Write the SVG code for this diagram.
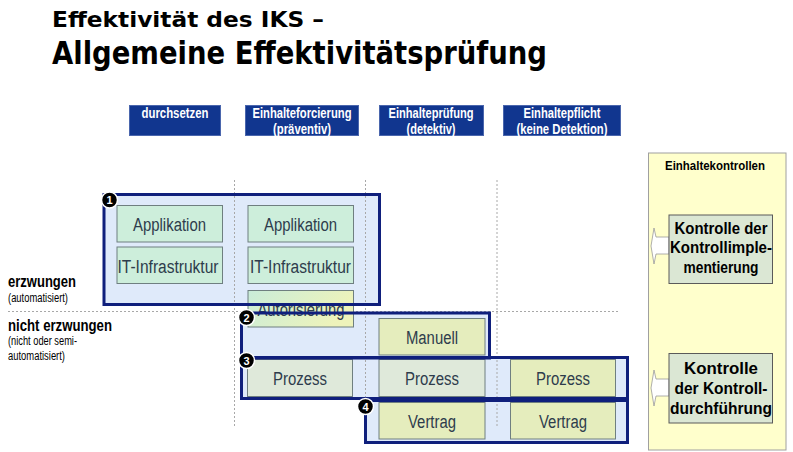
<svg xmlns="http://www.w3.org/2000/svg" width="793" height="452" viewBox="0 0 793 452">
<defs>
<linearGradient id="gAuth" x1="0" y1="0" x2="1" y2="0.3">
<stop offset="0" stop-color="#c9ecd9"/>
<stop offset="1" stop-color="#eef3ba"/>
</linearGradient>
<style>
.t1{font-family:"DejaVu Sans","Liberation Sans",sans-serif;font-weight:bold;fill:#000}
.hdr rect{fill:#11368f;stroke:#4a66ad;stroke-width:1}
.hdr text{font-family:"Liberation Sans",Arial,sans-serif;font-weight:bold;font-size:14px;fill:#fff;text-anchor:middle}
.ffill{fill:#dfeafa;stroke:none}
.fborder{fill:none;stroke:#0f1f7c;stroke-width:3}
.grid{stroke:#a8a8a8;stroke-width:1;stroke-dasharray:2 2;fill:none}
.box rect{stroke:#6f7f80;stroke-width:1}
.box text{font-family:"Liberation Sans",Arial,sans-serif;font-size:18px;fill:#2e3c4c;text-anchor:middle}
.mint{fill:#cdeedb}
.grey{fill:#dfe9da}
.yel{fill:#e5edbd}
.num circle{fill:#000;stroke:#fff;stroke-width:1.5}
.num text{font-family:"Liberation Sans",Arial,sans-serif;font-weight:bold;font-size:11px;fill:#fff;text-anchor:middle}
.lblb{font-family:"Liberation Sans",Arial,sans-serif;font-weight:bold;font-size:16px;fill:#000}
.lbls{font-family:"Liberation Sans",Arial,sans-serif;font-size:12px;fill:#000}
.ctl rect{fill:#dbe7d4;stroke:#5a5a5a;stroke-width:1}
.ctl text{font-family:"Liberation Sans",Arial,sans-serif;font-weight:bold;font-size:16.5px;fill:#000;text-anchor:middle}
.arr{fill:#fff;stroke:#9a9a9a;stroke-width:0.8}
</style>
</defs>
<rect x="0" y="0" width="793" height="452" fill="#fff"/>

<g id="title">
<text class="t1" x="52" y="27" font-size="21" textLength="272" lengthAdjust="spacingAndGlyphs">Effektivität des IKS –</text>
<text class="t1" x="52" y="64" font-size="32" textLength="495" lengthAdjust="spacingAndGlyphs">Allgemeine Effektivitätsprüfung</text>
</g>

<g id="header-durchsetzen" class="hdr">
<rect x="129.5" y="105.5" width="91" height="30"/>
<text x="175" y="118" textLength="67" lengthAdjust="spacingAndGlyphs">durchsetzen</text>
</g>
<g id="header-einhalteforcierung" class="hdr">
<rect x="245.5" y="105.5" width="113" height="30"/>
<text x="302" y="118" textLength="99" lengthAdjust="spacingAndGlyphs">Einhalteforcierung</text>
<text x="302" y="134" textLength="58" lengthAdjust="spacingAndGlyphs">(präventiv)</text>
</g>
<g id="header-einhaltepruefung" class="hdr">
<rect x="379.5" y="105.5" width="104" height="30"/>
<text x="431" y="118" textLength="85" lengthAdjust="spacingAndGlyphs">Einhalteprüfung</text>
<text x="431" y="134" textLength="49" lengthAdjust="spacingAndGlyphs">(detektiv)</text>
</g>
<g id="header-einhaltepflicht" class="hdr">
<rect x="503.5" y="105.5" width="117" height="30"/>
<text x="562" y="118" textLength="77" lengthAdjust="spacingAndGlyphs">Einhaltepflicht</text>
<text x="562" y="134" textLength="91" lengthAdjust="spacingAndGlyphs">(keine Detektion)</text>
</g>

<g id="frame-fills">
<rect class="ffill" x="104" y="194.5" width="275.5" height="110"/>
<rect class="ffill" x="241.5" y="313" width="248" height="45"/>
<rect class="ffill" x="241.5" y="357.5" width="386" height="41"/>
<rect class="ffill" x="365.5" y="400.5" width="262" height="42"/>
</g>

<g id="grid">
<line class="grid" x1="234.5" y1="180" x2="234.5" y2="428"/>
<line class="grid" x1="365.5" y1="180" x2="365.5" y2="428"/>
<line class="grid" x1="497" y1="180" x2="497" y2="428"/>
<line class="grid" x1="8" y1="311.5" x2="620" y2="311.5"/>
</g>

<g id="node-applikation-1" class="box"><rect class="mint" x="117" y="205.5" width="105.5" height="36.5"/><text x="169.5" y="230.5" textLength="73" lengthAdjust="spacingAndGlyphs">Applikation</text></g>
<g id="node-it-infrastruktur-1" class="box"><rect class="mint" x="117" y="247" width="105.5" height="36.5"/><text x="168" y="272.5" textLength="101" lengthAdjust="spacingAndGlyphs">IT-Infrastruktur</text></g>
<g id="node-applikation-2" class="box"><rect class="mint" x="248" y="205.5" width="105.5" height="36.5"/><text x="300.5" y="230.5" textLength="73" lengthAdjust="spacingAndGlyphs">Applikation</text></g>
<g id="node-it-infrastruktur-2" class="box"><rect class="mint" x="248" y="247" width="105.5" height="36.5"/><text x="300.5" y="272.5" textLength="101" lengthAdjust="spacingAndGlyphs">IT-Infrastruktur</text></g>
<g id="node-autorisierung" class="box"><rect fill="url(#gAuth)" x="248" y="290.5" width="105.5" height="36.5"/><text x="301" y="316" textLength="87" lengthAdjust="spacingAndGlyphs">Autorisierung</text></g>
<g id="node-manuell" class="box"><rect class="yel" x="379" y="318.5" width="106" height="36.5"/><text x="432" y="343.5" textLength="52" lengthAdjust="spacingAndGlyphs">Manuell</text></g>
<g id="node-prozess-1" class="box"><rect class="grey" x="247.5" y="359.5" width="105" height="37"/><text x="300" y="384.5" textLength="54" lengthAdjust="spacingAndGlyphs">Prozess</text></g>
<g id="node-prozess-2" class="box"><rect class="grey" x="379" y="359.5" width="106" height="37"/><text x="432" y="384.5" textLength="54" lengthAdjust="spacingAndGlyphs">Prozess</text></g>
<g id="node-prozess-3" class="box"><rect class="yel" x="510.5" y="359.5" width="105" height="37"/><text x="563" y="384.5" textLength="54" lengthAdjust="spacingAndGlyphs">Prozess</text></g>
<g id="node-vertrag-1" class="box"><rect class="yel" x="379" y="402.5" width="106" height="36.5"/><text x="432" y="427.5" textLength="48" lengthAdjust="spacingAndGlyphs">Vertrag</text></g>
<g id="node-vertrag-2" class="box"><rect class="yel" x="510.5" y="402.5" width="105" height="36.5"/><text x="563" y="427.5" textLength="48" lengthAdjust="spacingAndGlyphs">Vertrag</text></g>

<g id="frame-1"><rect class="fborder" x="104" y="194.5" width="275.5" height="110"/></g>
<g id="frame-2"><rect class="fborder" x="241.5" y="313" width="248" height="45"/></g>
<g id="frame-3"><rect class="fborder" x="241.5" y="357.5" width="386" height="41"/></g>
<g id="frame-4"><rect class="fborder" x="365.5" y="400.5" width="262" height="42"/></g>

<g id="marker-1" class="num"><circle cx="109.5" cy="200" r="8"/><text x="109.5" y="204">1</text></g>
<g id="marker-2" class="num"><circle cx="246.5" cy="317.5" r="8"/><text x="246.5" y="321.5">2</text></g>
<g id="marker-3" class="num"><circle cx="246.5" cy="360.5" r="8"/><text x="246.5" y="364.5">3</text></g>
<g id="marker-4" class="num"><circle cx="365.5" cy="406.5" r="8"/><text x="365.5" y="410.5">4</text></g>

<g id="row-labels">
<text class="lblb" x="8" y="287" textLength="68" lengthAdjust="spacingAndGlyphs">erzwungen</text>
<text class="lbls" x="8" y="302" textLength="60" lengthAdjust="spacingAndGlyphs">(automatisiert)</text>
<text class="lblb" x="8" y="331" textLength="104" lengthAdjust="spacingAndGlyphs">nicht erzwungen</text>
<text class="lbls" x="8" y="345" textLength="69" lengthAdjust="spacingAndGlyphs">(nicht oder semi-</text>
<text class="lbls" x="8" y="360" textLength="57" lengthAdjust="spacingAndGlyphs">automatisiert)</text>
</g>

<g id="panel-einhaltekontrollen">
<rect x="648.5" y="153" width="137.5" height="297" fill="#ffffcc" stroke="#a0a0a0" stroke-width="1"/>
<text x="715" y="170" font-family="'Liberation Sans',Arial,sans-serif" font-weight="bold" font-size="13" text-anchor="middle" textLength="100" lengthAdjust="spacingAndGlyphs">Einhaltekontrollen</text>
</g>

<g id="connectors">
<polygon class="arr" points="669,237 656,237 654,228 651,246 654,264 656,254 669,254"/>
<polygon class="arr" points="669,379 656,379 654,370 651,388 654,406 656,396 669,396"/>
</g>

<g id="node-kontrolle-implementierung" class="ctl">
<rect x="669" y="215" width="103.5" height="68.5"/>
<text x="721" y="234" textLength="93" lengthAdjust="spacingAndGlyphs">Kontrolle der</text>
<text x="721" y="253" textLength="102" lengthAdjust="spacingAndGlyphs">Kontrollimple-</text>
<text x="721" y="272.5" textLength="75" lengthAdjust="spacingAndGlyphs">mentierung</text>
</g>
<g id="node-kontrolle-durchfuehrung" class="ctl">
<rect x="669" y="353.5" width="103.5" height="69.5"/>
<text x="721" y="374" textLength="74" lengthAdjust="spacingAndGlyphs">Kontrolle</text>
<text x="721" y="394" textLength="93" lengthAdjust="spacingAndGlyphs">der Kontroll-</text>
<text x="721" y="414" textLength="102" lengthAdjust="spacingAndGlyphs">durchführung</text>
</g>
</svg>
